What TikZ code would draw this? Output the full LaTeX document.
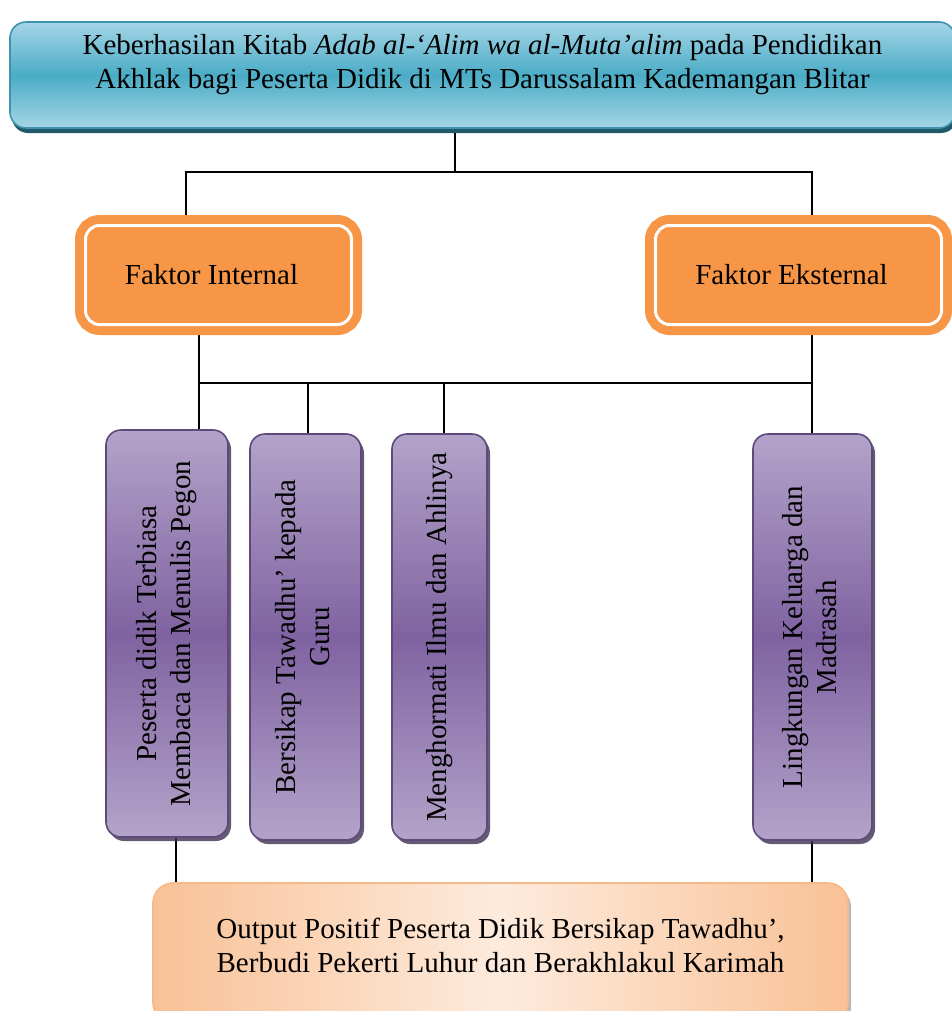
\documentclass[tikz,border=0pt]{standalone}
\usepackage{fontspec}
\setmainfont{Liberation Serif}
\usetikzlibrary{shadows,backgrounds}
\definecolor{biruterang}{HTML}{A5D5E6}
\definecolor{birutengah}{HTML}{4BACC6}
\definecolor{birugaris}{HTML}{3F93AE}
\definecolor{birubayang}{HTML}{215968}
\definecolor{jingga}{HTML}{F79646}
\definecolor{unguterang}{HTML}{B3A3C9}
\definecolor{ungutengah}{HTML}{7F63A1}
\definecolor{ungugaris}{HTML}{5F497A}
\definecolor{ungubayang}{HTML}{3F3151}
\definecolor{persikgelap}{HTML}{F9C196}
\definecolor{persikterang}{HTML}{FDEBDD}
\definecolor{persikgaris}{HTML}{F6B98A}
\newcommand*{\tegak}[1]{\rotatebox{90}{\begin{tabular}{@{}c@{}}#1\end{tabular}}}
\newcommand*{\dua}[2][0pt]{\raisebox{#1}[\height][\depth]{\begin{tabular}{@{}c@{}}#2\end{tabular}}}

\begin{document}
\begin{tikzpicture}[x=0.5pt,y=-0.5pt,font=\fontsize{14.5}{17}\selectfont,
    garis/.style={line width=0.9pt}]
		\tikzset{judul/.style={draw=birugaris,rounded corners=8pt,line width=0.8pt,
				top color=biruterang,bottom color=biruterang,middle color=birutengah,
				drop shadow={shadow xshift=1pt,shadow yshift=-2.5pt,fill=birubayang,opacity=1}},
			faktor/.style={draw=jingga,double=white,double distance=1.5pt,line width=4.5pt,
				fill=jingga,rounded corners=7pt,minimum height=49.5pt},
			butir/.style={draw=ungugaris,rounded corners=7.5pt,line width=0.8pt,
				top color=unguterang,bottom color=unguterang,middle color=ungutengah,
				drop shadow={shadow xshift=1.5pt,shadow yshift=-2pt,fill=ungubayang,opacity=.8}},
			hasil/.style={draw=persikgaris,rounded corners=10pt,line width=0.8pt,
				left color=persikgelap,right color=persikgelap,middle color=persikterang,
				drop shadow={shadow xshift=1.5pt,shadow yshift=-2pt,fill=black!35,opacity=.8}}}
		\useasboundingbox (0,0) rectangle (952,1011);
		\node[judul,minimum width=472.5pt,minimum height=53pt] (judul) at (482.5,75)
			{\dua[5pt]{Keberhasilan Kitab \textit{Adab al-‘Alim wa al-Muta’alim} pada Pendidikan\\
			Akhlak bagi Peserta Didik di MTs Darussalam Kademangan Blitar}};
		\node[faktor,minimum width=133pt] (internal) at (218.5,275) {Faktor Internal\hspace*{7pt}};
		\node[faktor,minimum width=143pt] (eksternal) at (798.5,275) {Faktor Eksternal\hspace*{7pt}};
		\node[butir,minimum width=61pt,minimum height=203.5pt] (b1) at (167,633.5)
			{\tegak{Peserta didik Terbiasa\\Membaca dan Menulis Pegon}};
		\node[butir,minimum width=55.5pt,minimum height=203pt] (b2) at (305.5,637)
			{\tegak{Bersikap Tawadhu’ kepada\\Guru}};
		\node[butir,minimum width=47.5pt,minimum height=203pt] (b3) at (439.5,637)
			{\tegak{Menghormati Ilmu dan Ahlinya}};
		\node[butir,minimum width=59.5pt,minimum height=203pt] (b4) at (812.5,637)
			{\tegak{Lingkungan Keluarga dan\\Madrasah}};
		\node[hasil,minimum width=347.5pt,minimum height=70pt] (hasil) at (500.5,953)
			{\dua[2pt]{Output Positif Peserta Didik Bersikap Tawadhu’,\\
			Berbudi Pekerti Luhur dan Berakhlakul Karimah}};
		\coordinate (c0) at (455,172);
		\coordinate (c1) at (186,172);
		\coordinate (c2) at (812,172);
		\coordinate (d1) at (199,383);
		\coordinate (d2) at (812,383);
		\coordinate (d3) at (308,383);
		\coordinate (d4) at (444,383);
		\coordinate (e1) at (176,883);
		\begin{scope}[on background layer]
			\draw[garis] (judul.south -| c0) -- (c0);
			\draw[garis] (internal.north -| c1) -- (c1) -- (c2) -- (eksternal.north -| c2);
			\draw[garis] (internal.south -| d1) -- (d1) -- (d2) -- (eksternal.south -| d2);
			\draw[garis] (d1) -- (b1.north -| d1);
			\draw[garis] (d3) -- (b2.north -| d3);
			\draw[garis] (d4) -- (b3.north -| d4);
			\draw[garis] (d2) -- (b4.north -| d2);
			\draw[garis] (b1.south -| e1) -- (e1);
			\draw[garis] (b4.south -| d2) -- (hasil.north -| d2);
		\end{scope}
\end{tikzpicture}
\end{document}
